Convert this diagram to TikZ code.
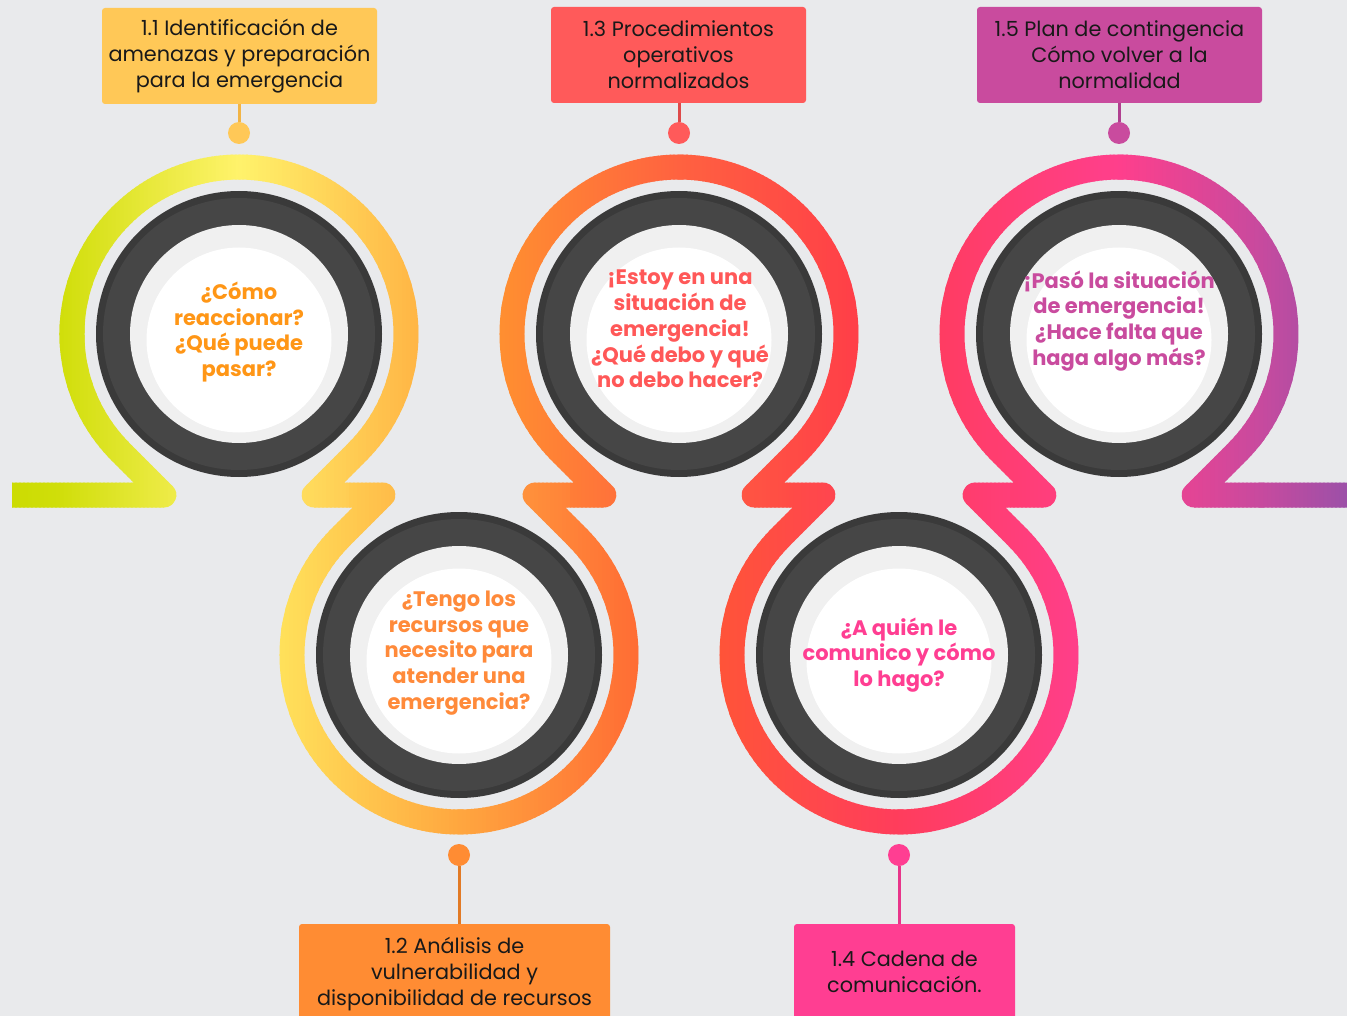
\documentclass[tikz,border=0pt]{standalone}
\usepackage{fontspec}
\setmainfont{Poppins}
\definecolor{bg}{HTML}{E9EAEC}
\definecolor{rim}{HTML}{3A3A3A}
\definecolor{darkring}{HTML}{464646}
\definecolor{lightdisk}{HTML}{F0F0F0}
% ribbon colour stops
\definecolor{sa0}{HTML}{CBDB00}
\definecolor{sa1}{HTML}{D0DE0A}
\definecolor{sa2}{HTML}{FFF36B}
\definecolor{sa3}{HTML}{FFB545}
\definecolor{sb1}{HTML}{FFE25B}
\definecolor{sb2}{HTML}{FFA73F}
\definecolor{sb3}{HTML}{FF6C34}
\definecolor{sc1}{HTML}{FF9030}
\definecolor{sc2}{HTML}{FF6240}
\definecolor{sc3}{HTML}{FF3E48}
\definecolor{sd1}{HTML}{FF5438}
\definecolor{sd2}{HTML}{FF3D5C}
\definecolor{sd3}{HTML}{FF3E8A}
\definecolor{se1}{HTML}{FF3C62}
\definecolor{se2}{HTML}{FF3F8C}
\definecolor{se3}{HTML}{C84A9E}
\definecolor{se4}{HTML}{9C50A8}
% boxes
\definecolor{boxA}{HTML}{FFC857}
\definecolor{boxB}{HTML}{FF8C33}
\definecolor{boxC}{HTML}{FF5A5A}
\definecolor{boxD}{HTML}{FF3E92}
\definecolor{boxE}{HTML}{C94B9E}
\definecolor{lineA}{HTML}{F2B445}
\definecolor{lineB}{HTML}{E27A25}
\definecolor{lineC}{HTML}{DE4A4A}
\definecolor{lineD}{HTML}{E8358A}
\definecolor{lineE}{HTML}{B04090}
\definecolor{txA}{HTML}{FF9616}
\definecolor{txB}{HTML}{FF8A3A}
\definecolor{txC}{HTML}{FF5858}
\definecolor{txD}{HTML}{FF3E92}
\definecolor{txE}{HTML}{C94B9E}

\tikzset{
  ribbon/.style={line width=25pt, line join=round, line cap=butt},
  labelbox/.style={rounded corners=3pt, inner sep=0pt, align=center, text=black!90,
    font=\fontsize{20.8}{26}\selectfont},
  pinline/.style={line width=3pt},
  pindot/.style={circle, inner sep=0pt, minimum size=22pt},
  qtext/.style={align=center, font=\fontsize{21}{25.8}\selectfont\bfseries},
}

\newcommand\segA[1]{\draw[ribbon,draw=#1] (12,495) -- (163.8,495) -- (120.9,452.1)
  arc[start angle=135,end angle=405,radius=167] -- (314.2,495) -- (349,495);}
\newcommand\segB[1]{\draw[ribbon,draw=#1] (349,495) -- (382.8,495) -- (340.9,536.9)
  arc[start angle=225,end angle=-45,radius=167] -- (535.2,495) -- (570,495);}
\newcommand\segC[1]{\draw[ribbon,draw=#1] (570,495) -- (603.8,495) -- (560.9,452.1)
  arc[start angle=135,end angle=405,radius=167] -- (754.2,495) -- (789,495);}
\newcommand\segD[1]{\draw[ribbon,draw=#1] (789,495) -- (822.8,495) -- (780.9,536.9)
  arc[start angle=225,end angle=-45,radius=167] -- (975.2,495) -- (1010,495);}
\newcommand\segE[1]{\draw[ribbon,draw=#1] (1010,495) -- (1043.8,495) -- (1000.9,452.1)
  arc[start angle=135,end angle=405,radius=167] -- (1194.2,495) -- (1347,495);}

% #1 draw command, #2 x0, #3 x1, #4 colour at x0, #5 colour at x1
\newcommand\ribbonpart[5]{%
  \pgfmathtruncatemacro\rpn{ceil((#3-#2)/4)}%
  \foreach \i in {1,...,\rpn}{%
    \pgfmathsetmacro\xa{#2+(\i-1)*4}%
    \pgfmathsetmacro\pp{max(0,min(100,((#3-\xa-2)/(#3-#2))*100))}%
    \colorlet{rcol}{#4!\pp!#5}%
    \begin{scope}
      \clip (\xa-0.6,-5) rectangle (\xa+4.6,1020);
      #1{rcol}
    \end{scope}
  }%
}

\newcommand\ringat[1]{%
  \fill[rim] (#1) circle (143);
  \fill[darkring] (#1) circle (136);
  \fill[lightdisk] (#1) circle (109);
  \fill[white] ([yshift=-6pt]#1) circle (92.5);
}

\begin{document}
\begin{tikzpicture}[x=1pt,y=-1pt]
\useasboundingbox (0,0) rectangle (1347,1016);
\fill[bg] (0,0) rectangle (1347,1016);

% ---- ribbon ----
\ribbonpart{\segA}{0}{60}{sa0}{sa1}
\ribbonpart{\segA}{60}{239}{sa1}{sa2}
\ribbonpart{\segA}{239}{420}{sa2}{sa3}
\ribbonpart{\segB}{278}{459}{sb1}{sb2}
\ribbonpart{\segB}{459}{640}{sb2}{sb3}
\ribbonpart{\segC}{498}{679}{sc1}{sc2}
\ribbonpart{\segC}{679}{860}{sc2}{sc3}
\ribbonpart{\segD}{718}{899}{sd1}{sd2}
\ribbonpart{\segD}{899}{1080}{sd2}{sd3}
\ribbonpart{\segE}{938}{1119}{se1}{se2}
\ribbonpart{\segE}{1119}{1260}{se2}{se3}
\ribbonpart{\segE}{1260}{1347}{se3}{se4}

% ---- rings ----
\coordinate (k1) at (239,334);
\coordinate (k2) at (459,655);
\coordinate (k3) at (679,334);
\coordinate (k4) at (899,655);
\coordinate (k5) at (1119,334);
\ringat{k1}\ringat{k2}\ringat{k3}\ringat{k4}\ringat{k5}

% ---- questions ----
\node[qtext, text=txA] (q1) at (239,332) {¿Cómo\\reaccionar?\\¿Qué puede\\pasar?};
\node[qtext, text=txB] (q2) at (459,653) {¿Tengo los\\recursos que\\necesito para\\atender una\\emergencia?};
\node[qtext, text=txC] (q3) at (680,329) {¡Estoy en una\\situación de\\emergencia!\\¿Qué debo y qué\\no debo hacer?};
\node[qtext, text=txD] (q4) at (899,655) {¿A quién le\\comunico y cómo\\lo hago?};
\node[qtext, text=txE] (q5) at (1119,321) {¡Pasó la situación\\de emergencia!\\¿Hace falta que\\haga algo más?};

% ---- label boxes ----
\node[labelbox, fill=boxA, minimum width=275pt, minimum height=96pt] (b1) at (239.5,56)
  {1.1 Identificación de\\amenazas y preparación\\para la emergencia};
\node[labelbox, fill=boxC, minimum width=255pt, minimum height=96pt] (b3) at (678.5,55)
  {1.3 Procedimientos\\operativos\\normalizados};
\node[labelbox, fill=boxE, minimum width=285pt, minimum height=96pt] (b5) at (1119.5,55)
  {1.5 Plan de contingencia\\Cómo volver a la\\normalidad};
\node[labelbox, fill=boxB, minimum width=311pt, minimum height=100pt] (b2) at (454.5,974)
  {1.2 Análisis de\\vulnerabilidad y\\disponibilidad de recursos};
\node[labelbox, fill=boxD, minimum width=221pt, minimum height=95pt] (b4) at (904.5,971.5)
  {1.4 Cadena de\\comunicación.};

% ---- pins ----
\node[pindot, fill=boxA] (d1) at (239,133) {};
\node[pindot, fill=boxC] (d3) at (679,133) {};
\node[pindot, fill=boxE] (d5) at (1119,133) {};
\node[pindot, fill=boxB] (d2) at (459,855) {};
\node[pindot, fill=boxD] (d4) at (899,855) {};
\draw[pinline, lineA] (d1.north) -- (d1 |- b1.south);
\draw[pinline, lineC] (d3.north) -- (d3 |- b3.south);
\draw[pinline, lineE] (d5.north) -- (d5 |- b5.south);
\draw[pinline, lineB] (d2.south) -- (d2 |- b2.north);
\draw[pinline, lineD] (d4.south) -- (d4 |- b4.north);
\end{tikzpicture}
\end{document}
